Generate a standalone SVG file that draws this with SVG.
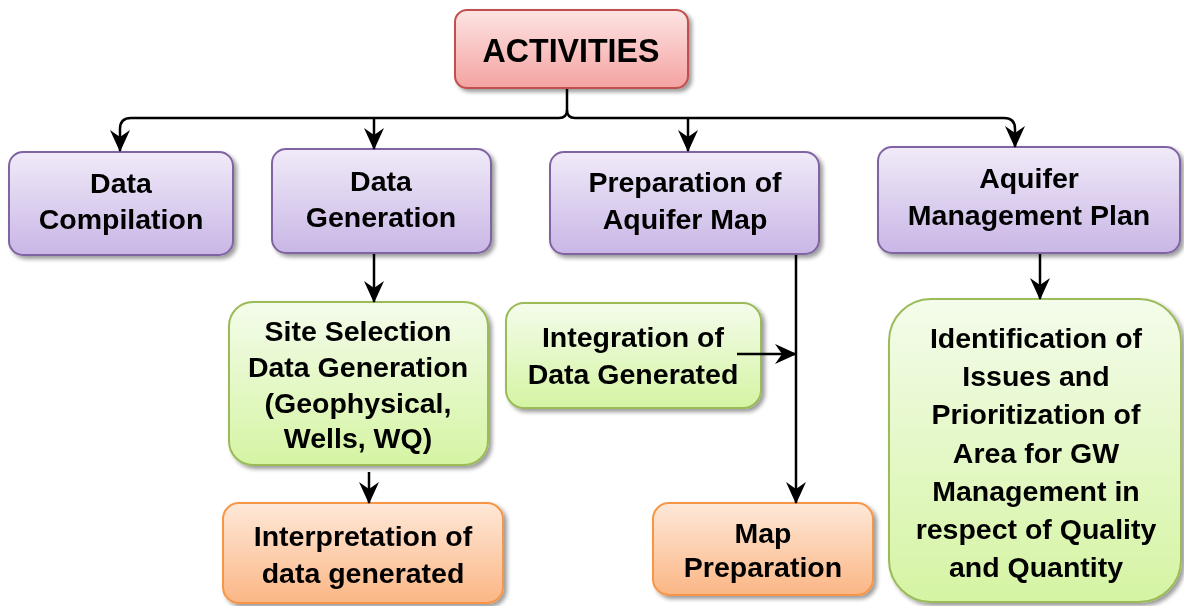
<svg xmlns="http://www.w3.org/2000/svg" width="1184" height="606" viewBox="0 0 1184 606">
<style>
.t{font-family:"Liberation Sans",Arial,sans-serif;font-weight:bold;font-size:28.5px;fill:#000;text-anchor:middle}
.c{fill:none;stroke:#000;stroke-width:2.5}
.p{fill:url(#gp);stroke:#8064a2;stroke-width:2}
.r{fill:url(#gr);stroke:#c0504d;stroke-width:2}
.g{fill:url(#gg);stroke:#9bbb59;stroke-width:2}
.o{fill:url(#go);stroke:#f79646;stroke-width:2}
</style>
<defs>
<linearGradient id="gp" x1="0" y1="0" x2="0" y2="1"><stop offset="0" stop-color="#f0eaf8"/><stop offset="1" stop-color="#c9b6e6"/></linearGradient>
<linearGradient id="gr" x1="0" y1="0" x2="0" y2="1"><stop offset="0" stop-color="#fde4e4"/><stop offset="1" stop-color="#f4a3a1"/></linearGradient>
<linearGradient id="gg" x1="0" y1="0" x2="0" y2="1"><stop offset="0" stop-color="#f4fceb"/><stop offset="1" stop-color="#d5f4a3"/></linearGradient>
<linearGradient id="go" x1="0" y1="0" x2="0" y2="1"><stop offset="0" stop-color="#fee8d8"/><stop offset="1" stop-color="#fbb685"/></linearGradient>
<filter id="sh" x="-10%" y="-10%" width="125%" height="130%"><feGaussianBlur in="SourceAlpha" stdDeviation="2"/><feOffset dx="3" dy="3" result="b"/><feComponentTransfer><feFuncA type="linear" slope="0.4"/></feComponentTransfer><feMerge><feMergeNode/><feMergeNode in="SourceGraphic"/></feMerge></filter>
<marker id="ah" viewBox="0 0 22 22" refX="21" refY="11" markerWidth="22" markerHeight="22" markerUnits="userSpaceOnUse" orient="auto"><path d="M0,1 L22,11 L0,21 L7,11 Z" fill="#000"/></marker>
</defs>

<g id="activities" filter="url(#sh)">
<rect class="r" x="455" y="10" width="233" height="78" rx="12"/>
<text class="t" x="571" y="62" style="font-size:33px" textLength="177" lengthAdjust="spacingAndGlyphs">ACTIVITIES</text>
</g>
<g id="data-compilation" filter="url(#sh)">
<rect class="p" x="9" y="152" width="224" height="103" rx="14"/>
<text class="t" x="121" y="193">Data</text>
<text class="t" x="121" y="229">Compilation</text>
</g>
<g id="data-generation" filter="url(#sh)">
<rect class="p" x="272" y="149" width="219" height="104" rx="14"/>
<text class="t" x="381" y="191">Data</text>
<text class="t" x="381" y="227">Generation</text>
</g>
<g id="preparation" filter="url(#sh)">
<rect class="p" x="550" y="152" width="269" height="102" rx="14"/>
<text class="t" x="685" y="192">Preparation of</text>
<text class="t" x="685" y="229">Aquifer Map</text>
</g>
<g id="aquifer-plan" filter="url(#sh)">
<rect class="p" x="878" y="147" width="302" height="106" rx="14"/>
<text class="t" x="1029" y="188">Aquifer</text>
<text class="t" x="1029" y="225">Management Plan</text>
</g>
<g id="site-selection" filter="url(#sh)">
<rect class="g" x="229" y="302" width="259" height="163" rx="24"/>
<text class="t" x="358" y="341">Site Selection</text>
<text class="t" x="358" y="377">Data Generation</text>
<text class="t" x="358" y="413">(Geophysical,</text>
<text class="t" x="358" y="448">Wells, WQ)</text>
</g>
<g id="integration" filter="url(#sh)">
<rect class="g" x="506" y="303" width="255" height="105" rx="18"/>
<text class="t" x="633" y="347">Integration of</text>
<text class="t" x="633" y="384">Data Generated</text>
</g>
<g id="interpretation" filter="url(#sh)">
<rect class="o" x="223" y="503" width="280" height="100" rx="16"/>
<text class="t" x="363" y="546">Interpretation of</text>
<text class="t" x="363" y="583">data generated</text>
</g>
<g id="map-preparation" filter="url(#sh)">
<rect class="o" x="653" y="503" width="220" height="92" rx="16"/>
<text class="t" x="763" y="543">Map</text>
<text class="t" x="763" y="577">Preparation</text>
</g>
<g id="identification" filter="url(#sh)">
<rect class="g" x="889" y="299" width="292" height="303" rx="42"/>
<text class="t" x="1036" y="348">Identification of</text>
<text class="t" x="1036" y="386">Issues and</text>
<text class="t" x="1036" y="424">Prioritization of</text>
<text class="t" x="1036" y="463">Area for GW</text>
<text class="t" x="1036" y="501">Management in</text>
<text class="t" x="1036" y="539">respect of Quality</text>
<text class="t" x="1036" y="577">and Quantity</text>
</g>

<g id="connectors">
<path class="c" d="M567,89 L567,110 Q567,118 559,118 L131,118 Q120,118 120,129 L120,151" marker-end="url(#ah)"/>
<path class="c" d="M567,110 Q567,118 575,118 L1004,118 Q1015,118 1015,129 L1015,147" marker-end="url(#ah)"/>
<path class="c" d="M374,118 L374,149" marker-end="url(#ah)"/>
<path class="c" d="M688,118 L688,151" marker-end="url(#ah)"/>
<path class="c" d="M374,254 L374,302" marker-end="url(#ah)"/>
<path class="c" d="M369,472 L369,503" marker-end="url(#ah)"/>
<path class="c" d="M796,255 L796,503" marker-end="url(#ah)"/>
<path class="c" d="M737,354 L796,354" marker-end="url(#ah)"/>
<path class="c" d="M1040,254 L1040,299" marker-end="url(#ah)"/>
</g>
</svg>
